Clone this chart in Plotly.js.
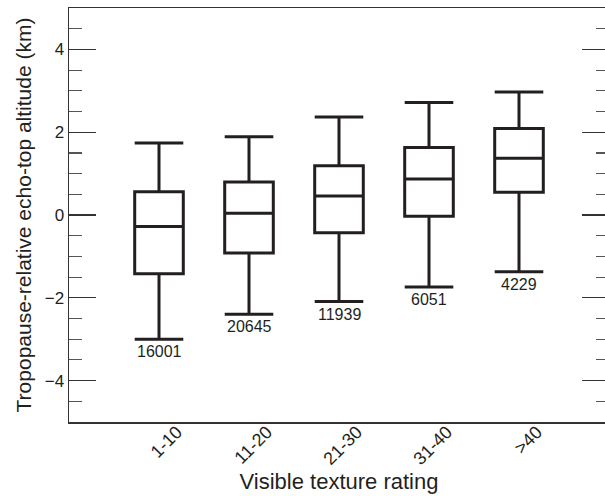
<!DOCTYPE html>
<html>
<head>
<meta charset="utf-8">
<script src="https://cdn.plot.ly/plotly-3.0.1.min.js"></script>
<style>
html,body{margin:0;padding:0;overflow:hidden;background:#fff;}
#chart{width:612px;height:496px;}
</style>
</head>
<body>
<div id="chart"></div>
<script>
const categories = ['1-10', '11-20', '21-30', '31-40', '>40'];
const upperWhisker = [1.74, 1.89, 2.37, 2.72, 2.97];
const q3Values = [0.56, 0.80, 1.19, 1.63, 2.09];
const medianValues = [-0.28, 0.04, 0.46, 0.87, 1.37];
const q1Values = [-1.42, -0.92, -0.43, -0.03, 0.55];
const lowerWhisker = [-3.00, -2.40, -2.09, -1.74, -1.37];
const counts = [16001, 20645, 11939, 6051, 4229];

const ink = '#231f20';
const fontFam = '"Liberation Sans", Arial, Helvetica, sans-serif';

const trace = {
  type: 'box',
  x: categories,
  q1: q1Values,
  median: medianValues,
  q3: q3Values,
  lowerfence: lowerWhisker,
  upperfence: upperWhisker,
  width: 0.54,
  whiskerwidth: 1,
  fillcolor: '#ffffff',
  line: {color: ink, width: 3},
  boxpoints: false,
  hoverinfo: 'skip',
  showlegend: false
};

const annotations = categories.map((c, i) => ({
  x: c, y: lowerWhisker[i], xref: 'x', yref: 'y',
  text: String(counts[i]), showarrow: false,
  yanchor: 'top', xanchor: 'center', yshift: -2,
  font: {family: fontFam, size: 16, color: ink}
}));

const layout = {
  width: 612, height: 496,
  margin: {l: 69, r: 3, t: 8, b: 74},
  paper_bgcolor: '#ffffff', plot_bgcolor: '#ffffff',
  font: {family: fontFam, color: ink},
  xaxis: {
    type: 'category',
    range: [-1, 5],
    showline: true, linecolor: '#333', linewidth: 1.5, mirror: true,
    ticks: '', showgrid: false, zeroline: false,
    tickangle: -45,
    ticklabelshift: 18,
    ticklabelstandoff: -9,
    tickfont: {family: fontFam, size: 18, color: ink},
    title: {text: 'Visible texture rating', font: {family: fontFam, size: 22, color: ink}, standoff: 2}
  },
  yaxis: {
    range: [-5, 5],
    dtick: 2, tick0: 0,
    ticks: 'inside', ticklen: 27, tickwidth: 1.2, tickcolor: '#333',
    minor: {dtick: 0.5, ticks: 'inside', ticklen: 13, tickwidth: 1.2, tickcolor: '#555'},
    showline: true, linecolor: '#333', linewidth: 1.5, mirror: 'ticks',
    showgrid: false, zeroline: false,
    tickfont: {family: fontFam, size: 17, color: ink},
    title: {text: 'Tropopause-relative echo-top altitude (km)', font: {family: fontFam, size: 21, color: ink}, standoff: 7}
  },
  annotations: annotations
};

Plotly.newPlot('chart', [trace], layout, {displayModeBar: false, staticPlot: true});
</script>
</body>
</html>
